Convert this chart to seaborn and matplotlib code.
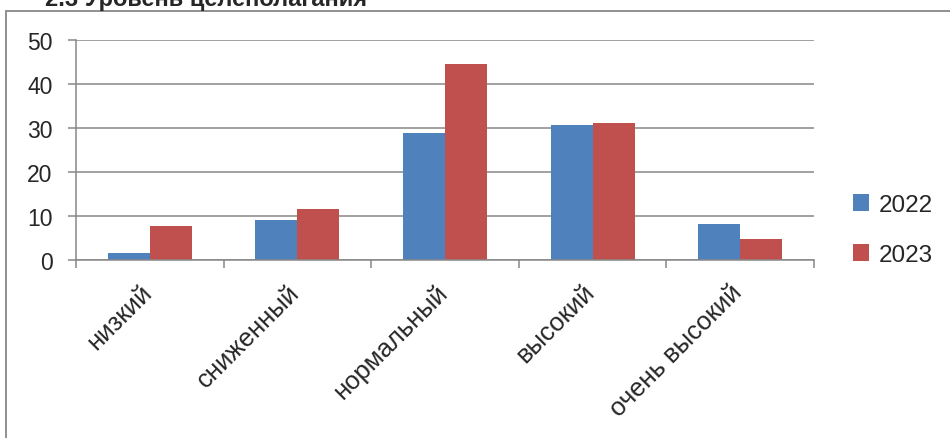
import pandas as pd
import matplotlib.pyplot as plt
import seaborn as sns
from matplotlib.patches import Rectangle

levels = ['низкий', 'сниженный', 'нормальный', 'высокий', 'очень высокий']
years = ['2022', '2023']
v2022 = [1.6, 9.1, 28.9, 30.6, 8.2]
v2023 = [7.7, 11.6, 44.5, 31.2, 4.7]
colors = ['#4F81BD', '#C0504D']
GREY = '#878787'

df = pd.DataFrame({
    'level': levels * 2,
    'year': [years[0]] * len(levels) + [years[1]] * len(levels),
    'value': v2022 + v2023,
})

sns.set_theme(style='white')
plt.rcParams['font.family'] = ['Liberation Sans', 'DejaVu Sans']

fig = plt.figure(figsize=(9.5, 4.39), dpi=100)
ax = fig.add_axes([76/950, 1-261/439, (814-76)/950, (261-41)/439])

sns.barplot(data=df, x='level', y='value', hue='year', palette=colors,
            saturation=1, width=0.57, ax=ax, edgecolor='none')

ax.set_xlim(-0.5, len(levels) - 0.5)
ax.set_ylim(0, 50)
ax.set_yticks(range(0, 51, 10))
ax.yaxis.grid(True, color=GREY, linewidth=1.1)
ax.set_axisbelow(True)
ax.set_xlabel('')
ax.set_ylabel('')

# category ticks at the borders, labels (slightly left of centre) on minor ticks
ax.set_xticks([i - 0.5 for i in range(len(levels) + 1)])
ax.set_xticklabels([])
ax.set_xticks([i - 0.07 for i in range(len(levels))], minor=True)
ax.set_xticklabels(levels, minor=True, rotation=45, ha='right',
                   va='top', rotation_mode='anchor', fontsize=18.5)
ax.tick_params(axis='x', which='major', direction='out', length=6,
               width=1.1, color=GREY, bottom=True)
ax.tick_params(axis='x', which='minor', length=0, pad=14)
ax.tick_params(axis='y', direction='out', length=6, width=1.1, color=GREY,
               left=True, labelsize=16.5, pad=11)

for s in ['top', 'right']:
    ax.spines[s].set_visible(False)
for s in ['left', 'bottom']:
    ax.spines[s].set_color(GREY)
    ax.spines[s].set_linewidth(1.1)

ax.legend(loc='center left', bbox_to_anchor=(841/950, 1-231/439),
          bbox_transform=fig.transFigure, frameon=False, fontsize=17.5,
          handlelength=0.65, handleheight=0.65, handletextpad=0.4,
          labelspacing=1.15, borderpad=0, title=None)

# outer chart frame and cut-off heading
fig.patches.append(Rectangle((6/950, -0.1), 1.2, 1.1 - 12/439,
                             transform=fig.transFigure, fill=False,
                             edgecolor=GREY, linewidth=1.3))
fig.text(45/950, 1-6/439, '2.3 Уровень целеполагания', fontsize=17,
         fontweight='bold', ha='left', va='baseline')

plt.savefig('out.png', dpi=100)
